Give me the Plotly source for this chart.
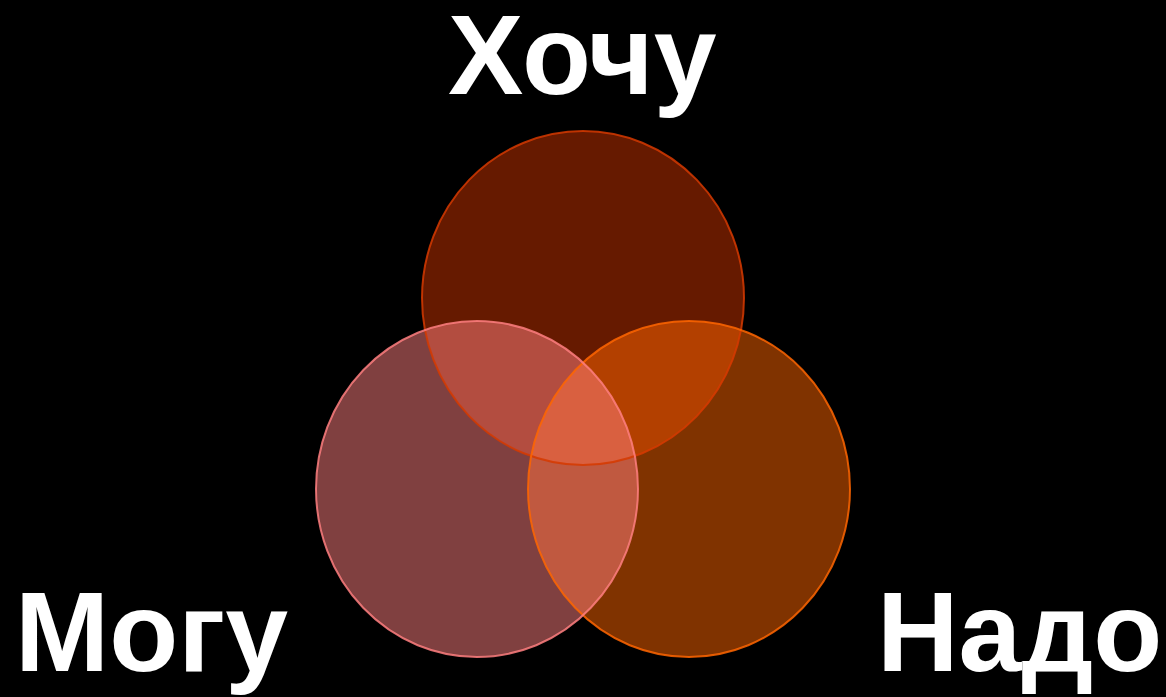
import plotly.graph_objects as go

# Venn sets (drawn in this order: top, right, left)
set_names = ["Хочу", "Надо", "Могу"]
center_x = [583, 689, 477]
center_y = [298, 489, 489]
radius_x = [161, 161, 161]
radius_y = [167, 168, 168]
fill_colors = ["rgba(204,51,0,0.5)", "rgba(255,102,0,0.5)", "rgba(255,127,128,0.5)"]
edge_colors = ["#d63a00", "#ff6600", "#ff7f80"]

# Label positions
label_x = [582, 1019, 151]
label_y = [55, 632, 632]

fig = go.Figure()
# invisible trace to establish axes
fig.add_trace(go.Scatter(x=[0, 1166], y=[0, 697], mode="markers",
                         marker=dict(opacity=0), hoverinfo="skip", showlegend=False))

shapes = []
for cx, cy, rx, ry, fc in zip(center_x, center_y, radius_x, radius_y, fill_colors):
    shapes.append(dict(type="circle", xref="x", yref="y",
                       x0=cx - rx, x1=cx + rx, y0=cy - ry, y1=cy + ry,
                       fillcolor=fc, line=dict(width=0), layer="above"))
for cx, cy, rx, ry, ec in zip(center_x, center_y, radius_x, radius_y, edge_colors):
    shapes.append(dict(type="circle", xref="x", yref="y",
                       x0=cx - rx, x1=cx + rx, y0=cy - ry, y1=cy + ry,
                       fillcolor="rgba(0,0,0,0)", line=dict(color=ec, width=2),
                       opacity=0.85, layer="above"))

annotations = []
for name, lx, ly in zip(set_names, label_x, label_y):
    annotations.append(dict(x=lx, y=ly, xref="x", yref="y", text="<b>%s</b>" % name,
                            showarrow=False, xanchor="center", yanchor="middle",
                            font=dict(family="Liberation Sans, Arial, sans-serif",
                                      size=113, color="white")))

fig.update_layout(
    width=1166, height=697,
    margin=dict(l=0, r=0, t=0, b=0),
    paper_bgcolor="black", plot_bgcolor="black",
    xaxis=dict(range=[0, 1166], visible=False, fixedrange=True),
    yaxis=dict(range=[697, 0], visible=False, fixedrange=True),
    shapes=shapes, annotations=annotations, showlegend=False,
)

fig.write_html("out.html", config={"displayModeBar": False},
               post_script="document.body.style.margin='0';document.body.style.background='black';"
                           "document.documentElement.style.overflow='hidden';")
